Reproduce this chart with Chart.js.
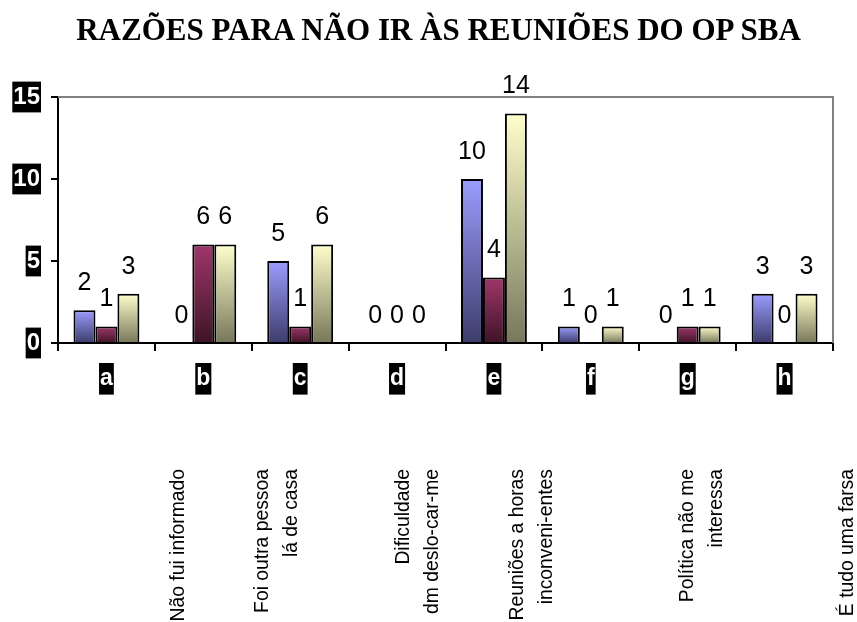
<!DOCTYPE html>
<html>
<head>
<meta charset="utf-8">
<script src="https://cdn.jsdelivr.net/npm/chart.js@4/dist/chart.umd.min.js"></script>
<style>
  body { margin: 0; background: #fff; }
  #wrap { position: relative; width: 857px; height: 622px; }
  #titulo {
    position: absolute; left: 0; top: 12px; width: 877px;
    text-align: center; font: bold 31px "Liberation Serif", "Times New Roman", serif;
    color: #000; white-space: nowrap;
  }
</style>
</head>
<body>
<div id="wrap">
  <canvas id="grafica" width="857" height="622"></canvas>
  <div id="titulo">RAZÕES PARA NÃO IR ÀS REUNIÕES DO OP SBA</div>
</div>
<script>
// dados
const categorias = ['a', 'b', 'c', 'd', 'e', 'f', 'g', 'h'];
const serie1 = [2, 0, 5, 0, 10, 1, 0, 3];
const serie2 = [1, 6, 1, 0, 4, 0, 1, 0];
const serie3 = [3, 6, 6, 0, 14, 1, 1, 3];
const ticksY = [0, 5, 10, 15];
const notas = [
    ['Não fui informado'],
    ['Foi outra pessoa', 'lá de casa'],
    ['Dificuldade', 'dm deslo-car-me'],
    ['Reuniões a horas', 'inconveni-entes'],
    ['Política não me', 'interessa'],
    ['É tudo uma farsa']
];

// posicao x (px) da primeira linha de cada nota
let notasX = [178, 262, 403, 517, 687, 847];

function gradiente(cores) {
    return function(ctx) {
        let chart = ctx.chart;
        if (!chart.chartArea || ctx.type !== 'data') return cores[0];
        let y = chart.scales.y;
        let topo = y.getPixelForValue(ctx.raw);
        let base = y.getPixelForValue(0);
        if (base - topo < 1) return cores[1];
        let g = chart.ctx.createLinearGradient(0, topo, 0, base);
        g.addColorStop(0, cores[0]);
        g.addColorStop(1, cores[1]);
        return g;
    };
}

const molduraPlugin = {
    id: 'moldura',
    beforeDatasetsDraw(chart) {
        let a = chart.chartArea;
        let c = chart.ctx;
        c.save();
        c.strokeStyle = '#808080';
        c.lineWidth = 2;
        c.beginPath();
        c.moveTo(a.left, a.top);
        c.lineTo(a.right, a.top);
        c.lineTo(a.right, a.bottom);
        c.stroke();
        c.restore();
    }
};

const rotulosPlugin = {
    id: 'rotulos',
    afterDatasetsDraw(chart) {
        let c = chart.ctx;
        c.save();
        c.fillStyle = '#000';
        c.font = '25px "Liberation Sans", Arial, sans-serif';
        c.textAlign = 'center';
        c.textBaseline = 'middle';
        chart.data.datasets.forEach((ds, i) => {
            let meta = chart.getDatasetMeta(i);
            meta.data.forEach((bar, j) => {
                c.fillText(String(ds.data[j]), bar.x, bar.y - 27);
            });
        });

        // notas verticais
        c.font = '21px "Liberation Sans", Arial, sans-serif';
        c.textAlign = 'right';
        notas.forEach((linhas, i) => {
            c.save();
            c.translate(notasX[i], 469);
            c.rotate(-Math.PI / 2);
            c.scale(0.92, 1);
            linhas.forEach((txt, k) => {
                c.fillText(txt, 0, k * 29);
            });
            c.restore();
        });
        c.restore();
    }
};

let ctx = document.getElementById('grafica').getContext('2d');
let grafica = new Chart(ctx, {
    type: 'bar',
    data: {
        labels: categorias,
        datasets: [
            { label: 'Série 1', data: serie1, backgroundColor: gradiente(['#9c9cff', '#3c3c6c']) },
            { label: 'Série 2', data: serie2, backgroundColor: gradiente(['#a0366a', '#3e1426']) },
            { label: 'Série 3', data: serie3, backgroundColor: gradiente(['#ffffcc', '#77775a']) }
        ]
    },
    options: {
        responsive: false,
        animation: false,
        layout: { padding: { top: 97, right: 24, left: 0, bottom: 0 } },
        datasets: {
            bar: {
                borderColor: '#000',
                borderWidth: 2,
                borderSkipped: 'bottom',
                categoryPercentage: 0.68,
                barPercentage: 1
            }
        },
        plugins: {
            legend: { display: false },
            tooltip: { enabled: false }
        },
        scales: {
            x: {
                afterFit: s => { s.height = 622 - 343; },
                border: { color: '#000', width: 2 },
                grid: { drawOnChartArea: false, drawTicks: true, tickLength: 8, color: '#000', lineWidth: 2 },
                ticks: {
                    color: '#fff',
                    font: { family: '"Liberation Sans", Arial, sans-serif', size: 23, weight: 'bold' },
                    padding: 14,
                    maxRotation: 0,
                    showLabelBackdrop: true,
                    backdropColor: '#000',
                    backdropPadding: { top: 2, bottom: 2, left: 1, right: 1 }
                }
            },
            y: {
                min: 0,
                max: 15,
                afterFit: s => { s.width = 58; },
                afterBuildTicks: s => { s.ticks = ticksY.map(v => ({ value: v })); },
                border: { color: '#000', width: 2 },
                grid: { drawOnChartArea: false, drawTicks: true, tickLength: 7, color: '#000', lineWidth: 2 },
                ticks: {
                    color: '#fff',
                    font: { family: '"Liberation Sans", Arial, sans-serif', size: 24, weight: 'bold' },
                    padding: 11,
                    showLabelBackdrop: true,
                    backdropColor: '#000',
                    backdropPadding: { top: 1, bottom: 1, left: 1, right: 1 }
                }
            }
        }
    },
    plugins: [molduraPlugin, rotulosPlugin]
});
</script>
</body>
</html>
